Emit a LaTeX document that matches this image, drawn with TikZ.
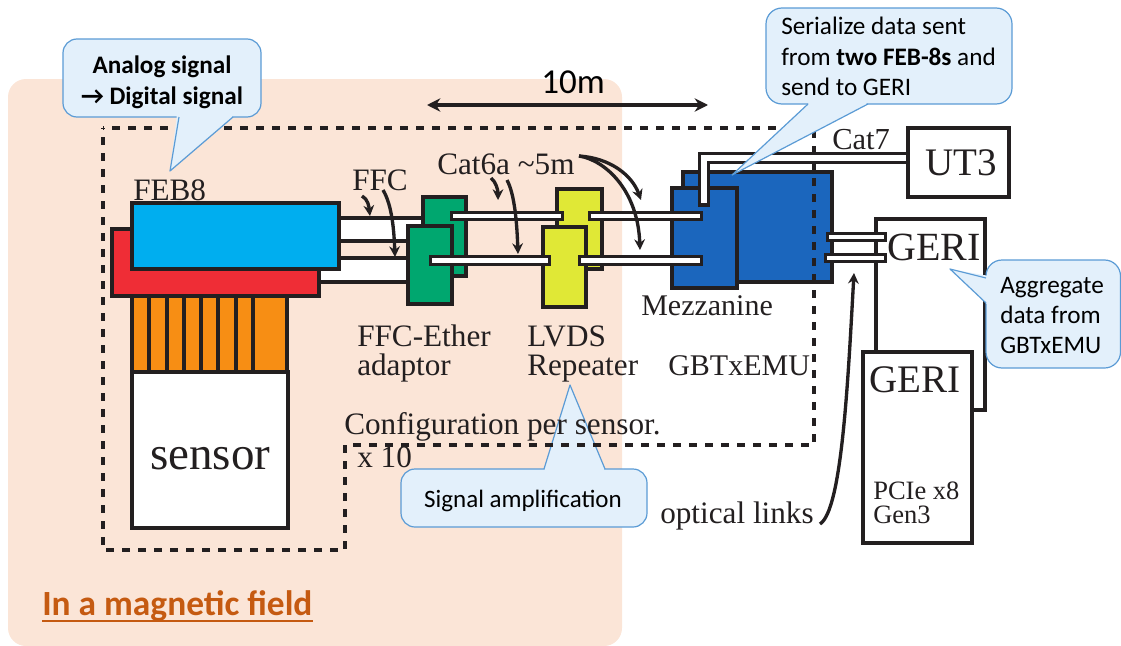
\documentclass[tikz,border=0pt]{standalone}
\usepackage{fontspec}
\setmainfont{Liberation Serif}
\newfontfamily\calib{Carlito}
\usetikzlibrary{arrows.meta,calc}
\definecolor{ink}{HTML}{231F20}
\definecolor{bgpeach}{HTML}{FBE5D7}
\definecolor{cfill}{HTML}{E3F0FB}
\definecolor{cline}{HTML}{5B9BD5}
\definecolor{febblue}{HTML}{00AEEF}
\definecolor{febred}{HTML}{EF2D36}
\definecolor{sorange}{HTML}{F78E14}
\definecolor{agreen}{HTML}{00A76F}
\definecolor{ayellow}{HTML}{E0E836}
\definecolor{mblue}{HTML}{1B66BD}
\definecolor{magtext}{HTML}{C55A11}
\newcommand{\bx}[6]{%
  \pgfmathsetmacro{\bxw}{(#4-#2)*0.75}%
  \pgfmathsetmacro{\bxh}{(#5-#3)*0.75}%
  \node[hw,#6,minimum width=\bxw pt,minimum height=\bxh pt] (#1) at ({(#2+#4)/2},{(#3+#5)/2}) {};}
\newcommand{\fs}[1]{\pgfmathsetmacro{\fsz}{#1*0.75}\fontsize{\fsz}{\fsz}\selectfont}
\tikzset{
  hw/.style={draw=ink,line width=3pt,inner sep=0pt,outer sep=0pt},
  cable/.style={draw=ink,line width=2.3pt,fill=white,inner sep=0pt,outer sep=0pt},
  lab/.style={anchor=base west,inner sep=0pt,text=ink,font=\fs{#1}},
  lab/.default=31.2,
  note/.style={anchor=base,inner sep=0pt,text=black,align=center},
  txt/.style={anchor=base west,inner sep=0pt,text=black,font=\calib\fs{25.2}},
  callout/.style={draw=cline,fill=cfill,line width=0.9pt,line join=round},
  pointer/.style={draw=ink,line width=2.5pt,-{Stealth[length=8pt,width=8pt]}},
  dashline/.style={draw=ink,line width=3pt,dash pattern=on 6pt off 6pt,dash phase=5pt},
}
\begin{document}
\begin{tikzpicture}[x=0.75pt,y=-0.75pt]
\useasboundingbox (0,0) rectangle (1121,646);
\fill[bgpeach,rounded corners=13.5pt] (8,79) rectangle (622,646);
% FFC
\bx{ffcu}{335}{218}{428}{241}{fill=white}
\bx{ffcl}{315}{258}{412}{282}{fill=white}
% FEB
\bx{febr}{112}{229}{319}{296}{fill=febred}
\bx{febb}{132}{203}{339}{269}{fill=febblue}
% orange
\bx{fan}{132}{296}{287}{372}{fill=sorange}
\foreach \xx in {149,167,184,201,218,236,253}{\draw[ink,line width=3pt] (\xx,296) -- (\xx,372);}
\bx{sens}{132}{372}{288}{528}{fill=white}
% adaptors
\bx{gb}{423}{197}{466}{276}{fill=agreen}
\bx{gf}{408}{226}{452}{304}{fill=agreen}
\bx{yb}{557}{189}{602}{269}{fill=ayellow}
% mezz
\bx{mb}{683}{172}{832}{282}{fill=mblue}
\bx{mf}{672}{188}{737}{288}{fill=mblue}
% cables
\bx{c1}{451.5}{212.5}{562.5}{219.5}{cable}
\bx{c2}{589.5}{212.5}{701.5}{219.5}{cable}
\bx{yf}{543}{227}{586}{307}{fill=ayellow}
\bx{c3}{430.5}{256.5}{549.5}{264.5}{cable}
\bx{c4}{579.5}{256.5}{701.5}{264.5}{cable}
% signal callout is under the lines and text
\draw[callout,rounded corners=10.5pt] (401,469) -- (647,469) -- (647,527) -- (401,527) -- cycle;
\fill[cfill] (544,472) -- (570,385) -- (605,472) -- cycle;
\draw[callout] (544,469) -- (570,385) -- (605,469);
\node[note,font=\calib\fs{25}] (sig) at (523,507) {Signal amplification};
% dashed
\draw[dashline] (103,128) -- (814,128) -- (814,445) -- (345,445) -- (345,550) -- (103,550) -- cycle;
% UT3, GERI
\bx{ut}{908}{128}{1009}{197}{fill=white}
\draw[ink,line width=3pt,line join=miter] (876,352) -- (876,219) -- (985,219) -- (985,410) -- (972,410);
\bx{geri}{863}{352}{972}{543}{fill=white}
\bx{l1}{827.5}{233.5}{885.5}{240.5}{cable}
\bx{l2}{825.5}{254.5}{885.5}{261.5}{cable}
% Cat7
\draw[ink,line width=8.6pt,line join=miter] (704,207) -- (704,158) -- (908,158);
\draw[white,line width=3.8pt,line join=miter] (704,203) -- (704,158) -- (906,158);
% labels
\node[lab] (tfeb) at (133,200) {FEB8};
\node[lab] (tffc) at (352,190) {FFC};
\node[lab] (tcat) at (437,174) {Cat6a \textasciitilde5m};
\node[lab] (tfe1) at (357,346) {FFC-Ether};
\node[lab] (tfe2) at (357,375) {adaptor};
\node[lab] (tlv1) at (527,346) {LVDS};
\node[lab] (tlv2) at (527,375) {Repeater};
\node[lab=30] (tmez) at (641,315) {Mezzanine};
\node[lab=30] (tgbt) at (668,375) {GBTxEMU};
\node[lab] (tcfg) at (344,434) {Configuration per sensor.};
\node[lab] (tx10) at (357,467) {x 10};
\node[lab] (topt) at (660,523) {optical links};
\node[lab=47] (tsen) at (150,469) {sensor};
\node[lab=40] (tg1) at (887,260) {GERI};
\node[lab=39] (tg2) at (869,392) {GERI};
\node[lab=39] (tut) at (925,175) {UT3};
\node[lab=26.5] (tpc1) at (873,499) {PCIe x8};
\node[lab=26.5] (tpc2) at (873,523) {Gen3};
\node[lab=30.5] (tc7) at (832,149) {Cat7};
\node[anchor=base,inner sep=0pt,font=\calib\fs{35},text=black] (t10) at (573,93) {10m};
\node[anchor=base west,inner sep=0pt,font=\calib\bfseries\fs{35.4},text=magtext] (tmag) at (42,615) {In a magnetic field};
\draw[magtext,line width=1.5pt] ($(tmag.base west)+(0,6)$) -- ($(tmag.base east)+(0,6)$);
% arrows
\coordinate (aa) at (427,105); \coordinate (ab) at (708,105);
\draw[ink,line width=2.3pt,{Stealth[length=10pt,width=10pt]}-{Stealth[length=10pt,width=10pt]}] (aa) -- (ab);
\coordinate (f1) at (362,196); \coordinate (f1e) at (370,216);
\draw[pointer] (f1) .. controls (368,199) and (369,207) .. (f1e);
\coordinate (f2) at (383,190); \coordinate (f2e) at (395,257);
\draw[pointer] (f2) .. controls (392,205) and (394,230) .. (f2e);
\coordinate (k1) at (491,178); \coordinate (k1e) at (498,200);
\draw[pointer] (k1) .. controls (496,182) and (498,190) .. (k1e);
\coordinate (k2) at (507,180); \coordinate (k2e) at (518,254);
\draw[pointer] (k2) .. controls (515,195) and (517,225) .. (k2e);
\coordinate (m0) at (579,156); \coordinate (m1) at (641,200); \coordinate (m2) at (640,250);
\draw[pointer] (m0) .. controls (610,158) and (632,175) .. (m1);
\draw[pointer] (m0) .. controls (605,160) and (638,190) .. (m2);
\coordinate (o0) at (820,524); \coordinate (o1) at (854,273);
\draw[pointer] (o0) .. controls (842,510) and (848,380) .. (o1);
% opaque callouts
\draw[callout,rounded corners=10.5pt] (63,39) -- (261,39) -- (261,117) -- (63,117) -- cycle;
\fill[cfill] (177,114) -- (170,171) -- (235,114) -- cycle;
\draw[callout] (179,117) -- (170,171) -- (233,117);
\node[note,font=\calib\bfseries\fs{25.2}] (nan1) at (162,73) {Analog signal};
\node[note,font=\calib\bfseries\fs{25.2}] (nan2) at (162,104) {→ Digital signal};
%
\draw[callout,rounded corners=12pt] (766,8) -- (1012,8) -- (1012,104) -- (766,104) -- cycle;
\fill[cfill] (811,101) -- (732,175) -- (871,101) -- cycle;
\draw[callout] (808,104) -- (732,175) -- (868,104);
\node[txt] (ns1) at (781,34) {Serialize data sent};
\node[txt] (ns2) at (781,65) {from \textbf{two FEB-8s} and};
\node[txt] (ns3) at (781,95) {send to GERI};
%
\draw[callout,rounded corners=12pt] (986,260) -- (1120.5,260) -- (1120.5,368) -- (986,368) -- cycle;
\fill[cfill] (989,276) -- (950,269) -- (989,306) -- cycle;
\draw[callout] (986,278) -- (950,269) -- (986,303);
\node[txt] (ng1) at (1000,293) {Aggregate};
\node[txt] (ng2) at (1000,323) {data from};
\node[txt] (ng3) at (1000,353) {GBTxEMU};
\end{tikzpicture}
\end{document}
